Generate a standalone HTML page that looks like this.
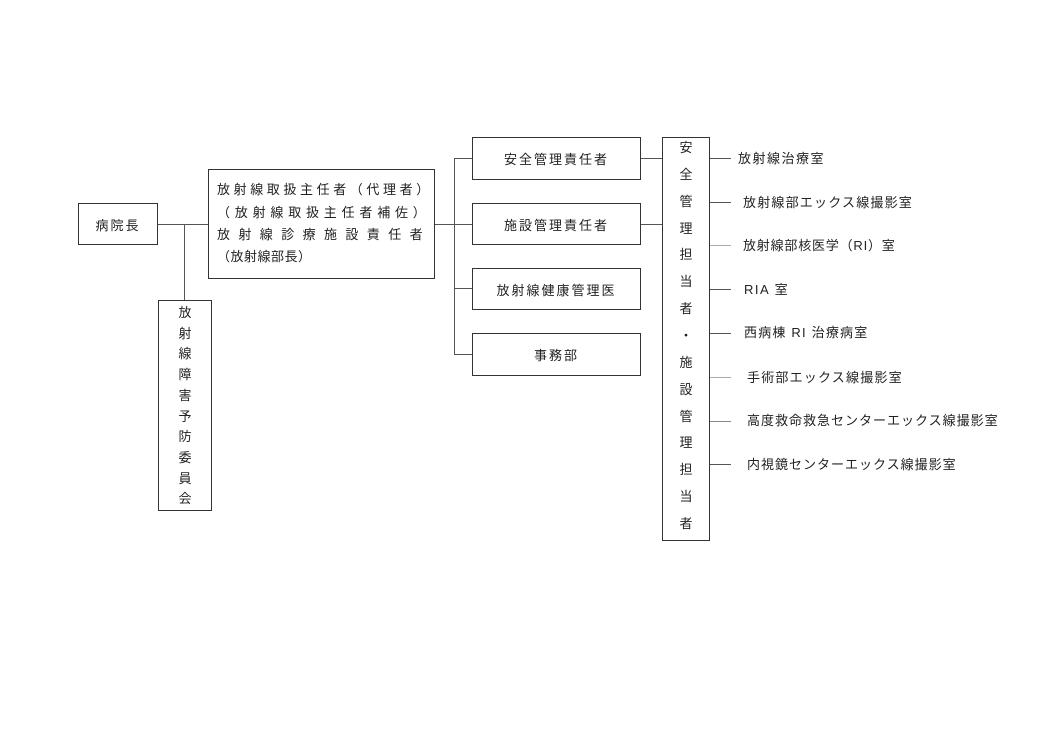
<!DOCTYPE html>
<html><head><meta charset="utf-8"><style>
body{margin:0;background:#fff;width:1057px;height:747px;position:relative;overflow:hidden;font-family:"Liberation Sans","Noto Sans CJK JP",sans-serif;color:#222;font-size:13px}
.b{position:absolute;border:1px solid #333;box-sizing:border-box}
.l{position:absolute;background:#555}
.t{position:absolute;white-space:nowrap;line-height:1}
.c{display:flex;align-items:center;justify-content:center;letter-spacing:2px}
.v{position:absolute;text-align:center;white-space:nowrap}
</style></head><body>
<div class="b c" style="left:78px;top:203px;width:80px;height:42px">病院長</div>
<div class="b" style="left:208px;top:169px;width:227px;height:110px"></div>
<div class="t" style="left:217px;top:183px;letter-spacing:3.6px">放射線取扱主任者（代理者）</div>
<div class="t" style="left:217px;top:206px;letter-spacing:4.8px">（放射線取扱主任者補佐）</div>
<div class="t" style="left:217px;top:228px;letter-spacing:8.4px">放射線診療施設責任者</div>
<div class="t" style="left:217px;top:250px;letter-spacing:0.5px">（放射線部長）</div>
<div class="l" style="left:158px;top:224px;width:50px;height:1px"></div>
<div class="l" style="left:184px;top:224px;width:1px;height:76px"></div>
<div class="b" style="left:158px;top:300px;width:54px;height:211px"></div>
<div class="v" style="left:158px;top:303px;width:54px;line-height:20.7px">放<br>射<br>線<br>障<br>害<br>予<br>防<br>委<br>員<br>会</div>
<div class="l" style="left:435px;top:224px;width:19px;height:1px"></div>
<div class="l" style="left:454px;top:158px;width:1px;height:197px"></div>
<div class="l" style="left:454px;top:158px;width:18px;height:1px"></div>
<div class="l" style="left:454px;top:224px;width:18px;height:1px"></div>
<div class="l" style="left:454px;top:288px;width:18px;height:1px"></div>
<div class="l" style="left:454px;top:354px;width:18px;height:1px"></div>
<div class="b c" style="left:472px;top:137px;width:169px;height:43px">安全管理責任者</div>
<div class="b c" style="left:472px;top:203px;width:169px;height:42px">施設管理責任者</div>
<div class="b c" style="left:472px;top:268px;width:169px;height:42px">放射線健康管理医</div>
<div class="b c" style="left:472px;top:333px;width:169px;height:43px">事務部</div>
<div class="l" style="left:641px;top:158px;width:21px;height:1px"></div>
<div class="l" style="left:641px;top:224px;width:21px;height:1px"></div>
<div class="b" style="left:662px;top:137px;width:48px;height:404px"></div>
<div class="v" style="left:662px;top:135px;width:48px;line-height:26.86px">安<br>全<br>管<br>理<br>担<br>当<br>者<br>・<br>施<br>設<br>管<br>理<br>担<br>当<br>者</div>
<div class="l" style="left:710px;top:158px;width:21px;height:1px"></div>
<div class="l" style="left:710px;top:202px;width:21px;height:1px"></div>
<div class="l" style="left:710px;top:245px;width:21px;height:1px;background:#aaa"></div>
<div class="l" style="left:710px;top:289px;width:21px;height:1px"></div>
<div class="l" style="left:710px;top:333px;width:21px;height:1px"></div>
<div class="l" style="left:710px;top:377px;width:21px;height:1px;background:#aaa"></div>
<div class="l" style="left:710px;top:421px;width:21px;height:1px;background:#888"></div>
<div class="l" style="left:710px;top:464px;width:21px;height:1px"></div>
<div class="t" style="left:738px;top:152px;letter-spacing:1.5px">放射線治療室</div>
<div class="t" style="left:743px;top:196px;letter-spacing:1.2px">放射線部エックス線撮影室</div>
<div class="t" style="left:743px;top:239px;letter-spacing:0.8px">放射線部核医学（RI）室</div>
<div class="t" style="left:744px;top:283px;letter-spacing:1.5px">RIA 室</div>
<div class="t" style="left:744px;top:326px;letter-spacing:1.2px">西病棟 RI 治療病室</div>
<div class="t" style="left:747px;top:371px;letter-spacing:1.2px">手術部エックス線撮影室</div>
<div class="t" style="left:747px;top:414px;letter-spacing:1px">高度救命救急センターエックス線撮影室</div>
<div class="t" style="left:747px;top:458px;letter-spacing:1px">内視鏡センターエックス線撮影室</div>
</body></html>
